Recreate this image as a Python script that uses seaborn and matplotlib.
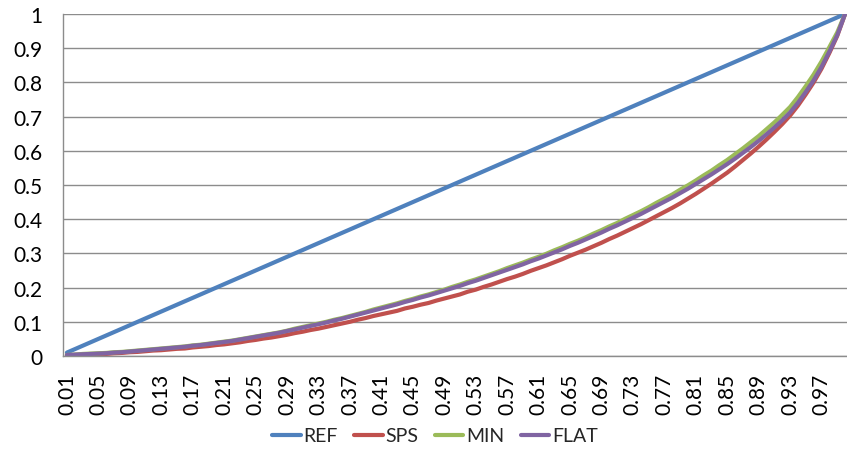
import numpy as np
import pandas as pd
import matplotlib
matplotlib.use("Agg")
import matplotlib.pyplot as plt
import seaborn as sns
from matplotlib.lines import Line2D

categories = ["%.2f" % (k / 100) for k in range(1, 101)]

ref = [0.01, 0.02, 0.03, 0.04, 0.05, 0.06, 0.07, 0.08, 0.09, 0.10,
       0.11, 0.12, 0.13, 0.14, 0.15, 0.16, 0.17, 0.18, 0.19, 0.20,
       0.21, 0.22, 0.23, 0.24, 0.25, 0.26, 0.27, 0.28, 0.29, 0.30,
       0.31, 0.32, 0.33, 0.34, 0.35, 0.36, 0.37, 0.38, 0.39, 0.40,
       0.41, 0.42, 0.43, 0.44, 0.45, 0.46, 0.47, 0.48, 0.49, 0.50,
       0.51, 0.52, 0.53, 0.54, 0.55, 0.56, 0.57, 0.58, 0.59, 0.60,
       0.61, 0.62, 0.63, 0.64, 0.65, 0.66, 0.67, 0.68, 0.69, 0.70,
       0.71, 0.72, 0.73, 0.74, 0.75, 0.76, 0.77, 0.78, 0.79, 0.80,
       0.81, 0.82, 0.83, 0.84, 0.85, 0.86, 0.87, 0.88, 0.89, 0.90,
       0.91, 0.92, 0.93, 0.94, 0.95, 0.96, 0.97, 0.98, 0.99, 1.00]

sps = [0.002, 0.003, 0.004, 0.005, 0.006, 0.006, 0.008, 0.009, 0.011, 0.012,
       0.014, 0.016, 0.017, 0.019, 0.021, 0.022, 0.025, 0.027, 0.029, 0.032,
       0.034, 0.037, 0.040, 0.044, 0.047, 0.051, 0.054, 0.058, 0.062, 0.067,
       0.071, 0.076, 0.080, 0.085, 0.090, 0.095, 0.100, 0.106, 0.111, 0.117,
       0.122, 0.127, 0.132, 0.139, 0.144, 0.150, 0.155, 0.162, 0.168, 0.174,
       0.180, 0.188, 0.194, 0.202, 0.209, 0.217, 0.225, 0.232, 0.240, 0.249,
       0.257, 0.265, 0.274, 0.283, 0.293, 0.302, 0.311, 0.321, 0.331, 0.342,
       0.352, 0.363, 0.374, 0.385, 0.397, 0.409, 0.421, 0.433, 0.446, 0.460,
       0.474, 0.489, 0.504, 0.520, 0.536, 0.554, 0.573, 0.592, 0.612, 0.633,
       0.655, 0.678, 0.703, 0.732, 0.765, 0.800, 0.840, 0.886, 0.936, 1.000]

mins = [0.003, 0.004, 0.006, 0.007, 0.008, 0.009, 0.011, 0.012, 0.014, 0.016,
        0.018, 0.020, 0.022, 0.024, 0.026, 0.028, 0.031, 0.033, 0.036, 0.039,
        0.042, 0.045, 0.049, 0.053, 0.057, 0.061, 0.065, 0.069, 0.074, 0.080,
        0.085, 0.090, 0.095, 0.100, 0.106, 0.111, 0.117, 0.123, 0.129, 0.136,
        0.142, 0.148, 0.154, 0.161, 0.167, 0.174, 0.180, 0.187, 0.194, 0.202,
        0.209, 0.217, 0.224, 0.232, 0.240, 0.248, 0.257, 0.265, 0.273, 0.282,
        0.290, 0.299, 0.309, 0.318, 0.328, 0.337, 0.347, 0.358, 0.368, 0.379,
        0.389, 0.401, 0.412, 0.423, 0.435, 0.448, 0.460, 0.472, 0.486, 0.499,
        0.513, 0.528, 0.542, 0.558, 0.573, 0.590, 0.607, 0.625, 0.643, 0.663,
        0.683, 0.705, 0.728, 0.757, 0.789, 0.823, 0.861, 0.903, 0.946, 1.000]

flat = [0.003, 0.004, 0.005, 0.006, 0.007, 0.008, 0.010, 0.011, 0.013, 0.015,
        0.017, 0.019, 0.021, 0.023, 0.025, 0.027, 0.030, 0.032, 0.035, 0.038,
        0.041, 0.044, 0.048, 0.052, 0.056, 0.060, 0.064, 0.068, 0.073, 0.078,
        0.083, 0.088, 0.093, 0.098, 0.104, 0.109, 0.115, 0.121, 0.127, 0.133,
        0.139, 0.145, 0.151, 0.158, 0.164, 0.171, 0.177, 0.184, 0.191, 0.198,
        0.205, 0.213, 0.220, 0.228, 0.236, 0.244, 0.252, 0.260, 0.268, 0.277,
        0.285, 0.294, 0.303, 0.312, 0.322, 0.331, 0.341, 0.351, 0.361, 0.372,
        0.382, 0.393, 0.404, 0.415, 0.427, 0.439, 0.451, 0.463, 0.476, 0.489,
        0.503, 0.517, 0.531, 0.546, 0.561, 0.577, 0.594, 0.611, 0.629, 0.648,
        0.668, 0.689, 0.712, 0.740, 0.772, 0.806, 0.845, 0.890, 0.938, 1.000]

series_names = ["REF", "SPS", "MIN", "FLAT"]
colors = ["#4F81BD", "#C0504D", "#9BBB59", "#8064A2"]
y_ticks = [0, 0.1, 0.2, 0.3, 0.4, 0.5, 0.6, 0.7, 0.8, 0.9, 1]
y_tick_labels = ["0", "0.1", "0.2", "0.3", "0.4", "0.5", "0.6", "0.7", "0.8", "0.9", "1"]

sns.set_theme(style="white")
plt.rcParams["font.family"] = ["Lato", "DejaVu Sans"]

frames = []
for name, vals in zip(series_names, [ref, sps, mins, flat]):
    frames.append(pd.DataFrame({"pos": np.arange(len(categories)),
                                "cat": categories,
                                "value": vals,
                                "series": name}))
df = pd.concat(frames, ignore_index=True)

W, H = 847, 456
fig = plt.figure(figsize=(W / 100, H / 100), dpi=100)
ax = fig.add_axes([63 / W, 1 - 357 / H, (849 - 63) / W, (357 - 15) / H])

sns.lineplot(data=df, x="pos", y="value", hue="series", hue_order=series_names,
             palette=colors, linewidth=3.0, ax=ax, legend=False, sort=False)

n = len(categories)
ax.set_xlim(-0.5, n - 0.5)
ax.set_ylim(0, 1)
ax.set_yticks(y_ticks)
ax.set_yticklabels(y_tick_labels)
ax.grid(axis="y", color="#8C8C8C", linewidth=1.0)
ax.set_axisbelow(True)

label_pos = list(range(0, n, 4))
ax.set_xticks(label_pos)
ax.set_xticklabels([categories[i] for i in label_pos], rotation=90)
ax.set_xticks(np.arange(-0.5, n, 1.0), minor=True)
ax.tick_params(axis="x", which="major", length=0, pad=12, labelsize=15, colors="black")
ax.tick_params(axis="x", which="minor", length=5, width=1, color="#8C8C8C", direction="out")
ax.tick_params(axis="y", which="major", length=6, width=1, color="#8C8C8C", direction="out",
               pad=9, labelsize=15, labelcolor="black")
ax.set_xlabel("")
ax.set_ylabel("")

for s in ["top", "right"]:
    ax.spines[s].set_visible(False)
for s in ["left", "bottom"]:
    ax.spines[s].set_color("#8C8C8C")
    ax.spines[s].set_linewidth(1.0)

handles = [Line2D([0], [0], color=c, linewidth=3.0) for c in colors]
fig.legend(handles, series_names, loc="center", bbox_to_anchor=(435 / W, 1 - 437 / H),
           ncol=4, frameon=False, fontsize=14, handlelength=1.45, handletextpad=0.15,
           columnspacing=0.85)

fig.savefig("out.png", dpi=100)
